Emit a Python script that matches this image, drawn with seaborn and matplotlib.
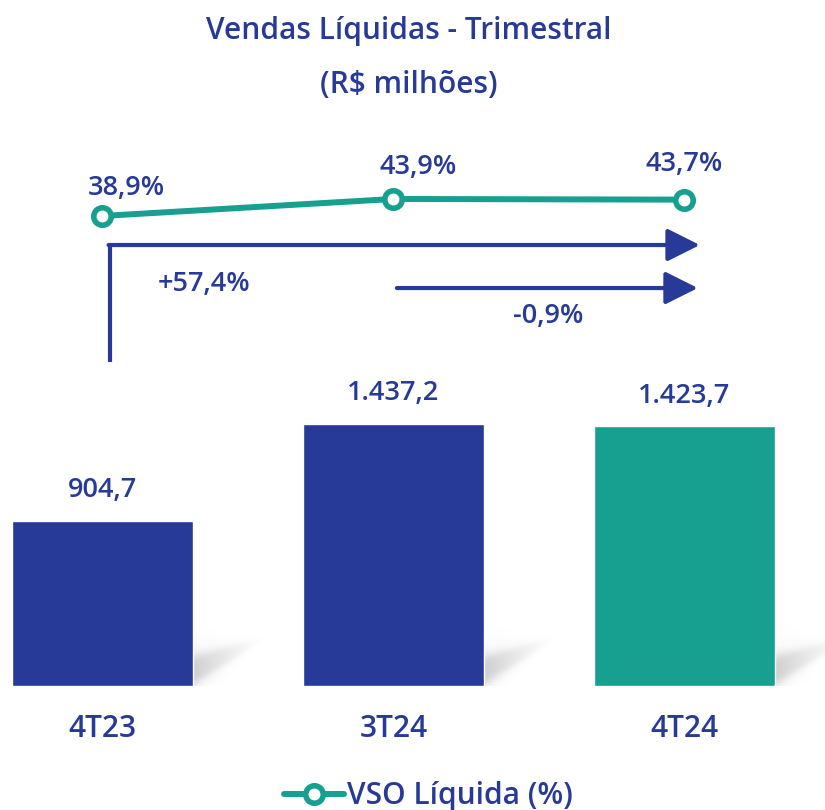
import numpy as np
import matplotlib
matplotlib.use("Agg")
import matplotlib.pyplot as plt
import seaborn as sns
import pandas as pd

# ---- data ----
categories = ["4T23", "3T24", "4T24"]
vendas = [904.7, 1437.2, 1423.7]
vendas_labels = ["904,7", "1.437,2", "1.423,7"]
vso = [38.9, 43.9, 43.7]
vso_labels = ["38,9%", "43,9%", "43,7%"]
var_labels = ["+57,4%", "-0,9%"]
title_lines = ["Vendas Líquidas - Trimestral", "(R$ milhões)"]
legend_label = "VSO Líquida (%)"

BLUE = "#283A97"
TEAL = "#179F8F"
bar_colors = [BLUE, BLUE, TEAL]

sns.set_theme(style="white")
plt.rcParams["font.family"] = ["Open Sans", "DejaVu Sans"]
FW = "semibold"
LBL = 19.5

fig = plt.figure(figsize=(8.25, 8.1), dpi=100)
ax = fig.add_axes([0, 0.1531, 1, 0.8469])

df = pd.DataFrame({"cat": categories, "val": vendas})
sns.barplot(data=df, x="cat", y="val", hue="cat", palette=dict(zip(categories, bar_colors)),
            legend=False, width=0.622, saturation=1, ax=ax, zorder=3)
ax.set_xlim(-0.352, 2.483)
ax.set_ylim(0, 3763)
for s in ax.spines.values():
    s.set_visible(False)
ax.set_yticks([])
ax.set_xlabel("")
ax.set_ylabel("")
ax.tick_params(axis="x", length=0, pad=20)
for t in ax.get_xticklabels():
    t.set_fontsize(21.5)
    t.set_color(BLUE)
    t.set_fontweight(FW)

# bar value labels
for i, (v, lab) in enumerate(zip(vendas, vendas_labels)):
    ax.annotate(lab, (i, v), xytext=(0, 12), textcoords="offset points",
                ha="center", va="bottom", fontsize=LBL, color=BLUE, fontweight=FW)

# soft shadows to the right of each bar
W, H = 80, 60
u = np.arange(W)[None, :].astype(float)
vv = np.arange(H)[:, None].astype(float)
c = 15 + 0.45 * u
hw = np.clip(15 - 0.19 * u, 2, None)
alpha = 0.42 * np.clip(1 - u / 70, 0, 1) ** 1.3 / (1 + ((vv - c) / hw) ** 4)
rgba = np.zeros((H, W, 4))
rgba[..., :3] = 0.55
rgba[..., 3] = alpha
for p in ax.patches:
    xr = p.get_x() + p.get_width()
    X0, Y0 = ax.transData.transform((xr, 0))
    (x1, y1) = ax.transData.inverted().transform((X0 + W, Y0 + H))
    ax.imshow(rgba, extent=(xr, x1, 0, y1), origin="lower", aspect="auto",
              zorder=1, interpolation="bilinear")
ax.set_xlim(-0.352, 2.483)
ax.set_ylim(0, 3763)

# VSO line on twin axis
ax2 = ax.twinx()
sns.lineplot(x=np.arange(len(vso)), y=vso, ax=ax2, color=TEAL, lw=4.3,
             marker="o", markersize=12.6, markeredgewidth=4.0,
             markerfacecolor="white", markeredgecolor=TEAL, label=legend_label,
             legend=False)
ax2.set_ylim(-99.3, 102.4)
ax2.set_xlim(-0.352, 2.483)
ax2.set_yticks([])
ax2.set_ylabel("")
for s in ax2.spines.values():
    s.set_visible(False)
offs = [(17, 20), (18, 23), (0, 26)]
for i, (v, lab) in enumerate(zip(vso, vso_labels)):
    ax2.annotate(lab, (i, v), xytext=offs[i], textcoords="offset points",
                 ha="center", va="center", fontsize=LBL, color=BLUE, fontweight=FW)

# variation arrows (bar-axis data coords)
x_start = 0.026
ax.plot([x_start, x_start], [1777, 2419], color=BLUE, lw=3.0, solid_capstyle="butt", zorder=4)
ax.annotate("", xy=(2.053, 2419), xytext=(x_start - 0.005, 2419),
            arrowprops=dict(arrowstyle="-|>,head_length=1.0,head_width=0.5", mutation_scale=20,
                            lw=3.0, color=BLUE, shrinkA=0, shrinkB=0))
ax.annotate("", xy=(2.046, 2183), xytext=(1.012, 2183),
            arrowprops=dict(arrowstyle="-|>,head_length=1.0,head_width=0.5", mutation_scale=20,
                            lw=3.0, color=BLUE, shrinkA=0, shrinkB=0))
ax.text(0.348, 2205, var_labels[0], ha="center", va="center", fontsize=LBL, color=BLUE, fontweight=FW)
ax.text(1.531, 2030, var_labels[1], ha="center", va="center", fontsize=LBL, color=BLUE, fontweight=FW)

# titles
fig.text(0.495, 1 - 31 / 810, title_lines[0], ha="center", va="center", fontsize=21.5,
         color=BLUE, fontweight=FW)
fig.text(0.495, 1 - 85 / 810, title_lines[1], ha="center", va="center", fontsize=21.5,
         color=BLUE, fontweight=FW)

# legend
h = ax2.get_lines()[0]
leg = fig.legend([h], [legend_label], loc="center", bbox_to_anchor=(0.519, 14 / 810),
                 frameon=False, fontsize=21.5, handlelength=2.0, handletextpad=0.1)
for t in leg.get_texts():
    t.set_color(BLUE)
    t.set_fontweight(FW)

fig.savefig("out.png", dpi=100)
